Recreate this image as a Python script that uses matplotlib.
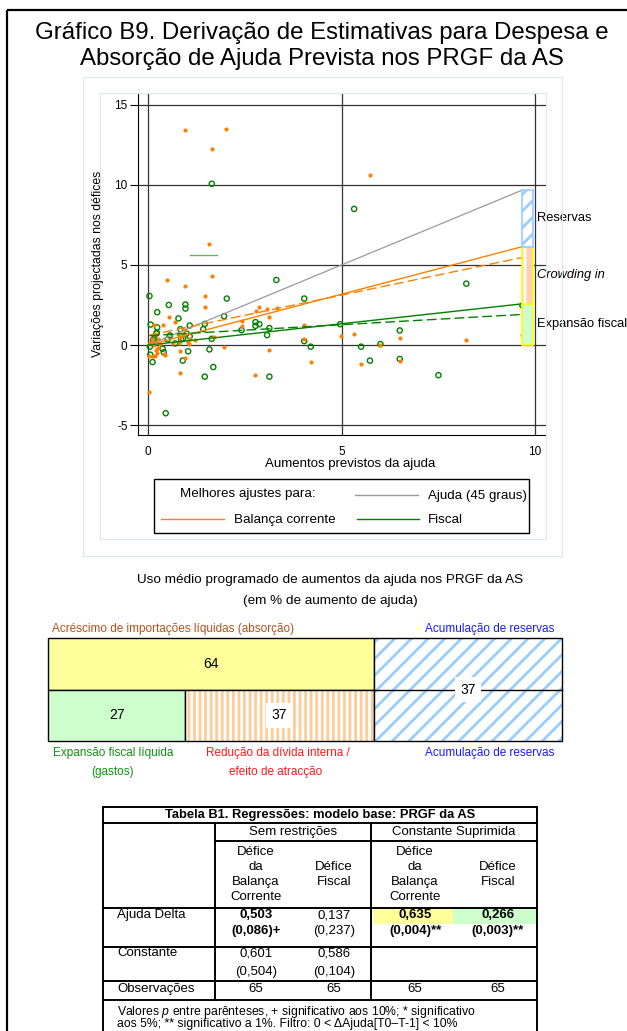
import numpy as np
import matplotlib.pyplot as plt
from matplotlib.patches import Rectangle

plt.rcParams['font.family'] = ['Liberation Sans', 'DejaVu Sans']
plt.rcParams['mathtext.fontset'] = 'custom'
plt.rcParams['mathtext.rm'] = 'Liberation Sans'
plt.rcParams['mathtext.it'] = 'Liberation Sans:italic'
plt.rcParams['hatch.linewidth'] = 2.0
plt.rcParams['axes.unicode_minus'] = False

# dispersão: aumento previsto da ajuda vs. variação projectada do défice
ca_x = [0.95, 2.02, 1.64, 1.57, 1.64, 0.48, 5.72, 0.95, 1.46, 1.46, 0.53, 0.68, 0.37, 0.16,
        2.42, 2.42, 2.78, 2.87, 3.07, 3.13, 3.32, 3.13, 2.76, 1.95, 1.69, 1.09, 1.02, 0.83,
        0.96, 0.82, 0.03, 0.03, 0.17, 0.21, 0.22, 0.40, 0.26, 0.12, 0.16, 0.83, 0.90, 4.03,
        4.03, 4.20, 4.97, 5.32, 5.50, 6.00, 6.50, 6.50, 8.22, 9.67, 0.09, 0.15, 0.13, 0.42,
        0.80, 0.78, 1.06, 0.63, 0.30, 0.94, 0.05, 0.25, 1.20]
ca_y = [13.4, 13.46, 12.2, 6.3, 4.33, 4.06, 10.6, 3.68, 3.08, 2.40, 1.76, 1.46, 1.25, 1.28,
        1.49, 1.18, 2.13, 2.38, 2.24, 1.76, 2.34, -0.31, -1.86, -0.10, 0.52, 0.35, 0.19, -0.39,
        -0.81, -1.72, -2.92, -0.66, -0.66, -0.31, -0.50, -0.56, 0.39, 0.20, 0.72, 0.50, 0.60, 1.28,
        0.37, -1.08, 0.58, 0.66, -1.18, 0.02, 0.43, -0.97, 0.31, 0.64, 0.35, 0.00, -0.68, -0.64,
        0.10, 0.72, 0.04, 0.10, 0.06, 0.97, 0.10, -0.20, 0.30]
fis_x = [1.64, 3.31, 5.32, 0.03, 0.06, 0.23, 0.23, 0.21, 0.53, 0.96, 0.96, 0.78, 0.83, 1.07,
         0.99, 1.42, 1.46, 2.03, 1.96, 2.41, 2.77, 2.77, 2.87, 3.13, 3.07, 4.03, 4.03, 4.20,
         1.64, 1.58, 1.68, 1.46, 3.13, 1.03, 0.89, 0.45, 0.11, 0.37, 0.40, 0.04, 0.05, 0.69,
         0.90, 0.50, 0.56, 4.96, 8.22, 6.50, 5.50, 5.73, 6.00, 6.50, 7.50, 9.67, 0.15, 0.12,
         0.85, 1.07, 0.22]
fis_y = [10.06, 4.06, 8.49, 3.06, 1.28, 2.05, 1.10, 0.72, 2.50, 2.53, 2.28, 1.66, 0.99, 1.22,
         0.72, 0.99, 1.32, 2.90, 1.80, 0.93, 1.20, 1.43, 1.30, 1.06, 0.62, 2.90, 0.25, -0.10,
         0.39, -0.27, -1.37, -1.97, -1.97, -0.39, -0.97, -4.25, -1.06, -0.23, -0.45, -0.10, -0.60, 0.10,
         0.40, 0.35, 0.60, 1.30, 3.83, 0.91, -0.10, -0.97, 0.06, -0.87, -1.88, 2.47, 0.40, 0.32,
         0.35, 0.55, 0.77]

# coeficientes da Tabela B1
slope_ca_free, const_ca_free = 0.503, 0.601
slope_fis_free, const_fis_free = 0.137, 0.586
slope_ca, slope_fis = 0.635, 0.266

# uso médio programado (em % de aumento de ajuda)
absorcao = 64
reservas = 37
fiscal = 27
crowding = 37

# tabela
tab_title = 'Tabela B1. Regressões: modelo base: PRGF da AS'
tab_groups = ['Sem restrições', 'Constante Suprimida']
tab_cols = ['Défice\nda\nBalança\nCorrente', 'Défice\nFiscal',
            'Défice\nda\nBalança\nCorrente', 'Défice\nFiscal']
row_names = ['Ajuda Delta', 'Constante', 'Observações']
coef_row = ['0,503', '0,137', '0,635', '0,266']
pval_row = ['(0,086)+', '(0,237)', '(0,004)**', '(0,003)**']
bold_row = [True, False, True, True]
const_row = ['0,601', '0,586', '', '']
constp_row = ['(0,504)', '(0,104)', '', '']
obs_row = ['65', '65', '65', '65']

W, H = 627, 1031
fig = plt.figure(figsize=(W / 100, H / 100), dpi=100)

def box(l, t, r, b):
    return [l / W, 1 - b / H, (r - l) / W, (b - t) / H]

# ---- gráfico de dispersão ----
ax = fig.add_axes(box(138, 94, 546, 435))
ax.set_xlim(-0.266, 10.28)
ax.set_ylim(-5.61, 15.66)
for s in ['top', 'right']:
    ax.spines[s].set_visible(False)
ax.set_xticks([0, 5, 10])
ax.set_yticks([-5, 0, 5, 10, 15])
ax.tick_params(axis='x', length=0, pad=8, labelsize=8.5)
ax.tick_params(axis='y', length=6, pad=1.5, labelsize=8.5)
ax.grid(True, color='#333333', lw=0.9)
ax.set_axisbelow(True)

ax.scatter(fis_x, fis_y, s=14, facecolors='none', edgecolors='#008000', lw=1.0, zorder=3)
ax.scatter(ca_x, ca_y, s=9, color='#ff8000', lw=0, zorder=3)
ax.plot([1.09, 1.78], [5.6, 5.6], color='#008000', lw=1, alpha=0.6, zorder=3)

xmax = max(ca_x)
xmin = min(min(ca_x), min(fis_x))
ax.plot([0, xmax], [0, xmax], color='#999999', lw=0.9, zorder=4)
ax.plot([0, xmax], [0, slope_ca * xmax], color='#ff8000', lw=1, zorder=4)
ax.plot([xmin, xmax], [const_ca_free + slope_ca_free * xmin, const_ca_free + slope_ca_free * xmax],
        color='#ff8000', lw=1, ls=(0, (7, 3)), zorder=4)
ax.plot([0, xmax], [0, slope_fis * xmax], color='#008000', lw=1, zorder=4)
ax.plot([xmin, xmax], [const_fis_free + slope_fis_free * xmin, const_fis_free + slope_fis_free * xmax],
        color='#008000', lw=1, ls=(0, (7, 3)), zorder=4)

# barra de decomposição no extremo direito
bw = 0.27
y1, y2, y3 = slope_fis * xmax, slope_ca * xmax, xmax
ax.add_patch(Rectangle((xmax, 0), bw, y1, fc='#ccffcc', ec='#ffff00', lw=1.2, zorder=5))
ax.add_patch(Rectangle((xmax, y1), bw, y2 - y1, fc='#fcd0b0', ec='white', hatch='|', lw=0, zorder=5))
ax.add_patch(Rectangle((xmax, y1), bw, y2 - y1, fill=False, ec='#ffff00', lw=1.2, zorder=5))
ax.add_patch(Rectangle((xmax, y2), bw, y3 - y2, fc='white', ec='#99ccff', hatch='//', lw=0, zorder=5))
ax.add_patch(Rectangle((xmax, y2), bw, y3 - y2, fill=False, ec='#99ccff', lw=1.2, zorder=5))
lx = xmax + 0.38
ax.text(lx, (y2 + y3) / 2, 'Reservas', fontsize=9.3, va='center', clip_on=False)
ax.text(lx, (y1 + y2) / 2, 'Crowding in', fontsize=9.3, style='italic', va='center', clip_on=False)
ax.text(lx, y1 / 2, 'Expansão fiscal', fontsize=9.3, va='center', clip_on=False)

# ---- diagrama de blocos ----
bx = fig.add_axes(box(48, 638, 562, 741))
bx.set_xlim(0, absorcao + reservas)
bx.set_ylim(0, 2)
bx.axis('off')
tot = absorcao + reservas
bx.add_patch(Rectangle((0, 1), absorcao, 1, fc='#ffff99', ec='black', lw=1, clip_on=False))
bx.add_patch(Rectangle((0, 0), fiscal, 1, fc='#ccffcc', ec='black', lw=1, clip_on=False))
bx.add_patch(Rectangle((fiscal, 0), crowding, 1, fc='#ffcc99', ec='white', hatch='|||', lw=0, clip_on=False))
bx.add_patch(Rectangle((fiscal, 0), crowding, 1, fill=False, ec='black', lw=1, clip_on=False))
bx.add_patch(Rectangle((absorcao, 0), reservas, 2, fc='white', ec='#99ccff', hatch='//', lw=0, clip_on=False))
bx.add_patch(Rectangle((absorcao, 0), reservas, 2, fill=False, ec='black', lw=1, clip_on=False))
bx.plot([absorcao, tot], [1, 1], color='black', lw=1, clip_on=False)
bx.text(absorcao / 2, 1.5, str(absorcao), ha='center', va='center', fontsize=10)
bx.text(fiscal / 2, 0.5, str(fiscal), ha='center', va='center', fontsize=10)
bx.text(fiscal + crowding / 2, 0.5, str(crowding), ha='center', va='center', fontsize=10,
        bbox=dict(fc='white', ec='none', pad=4))
bx.text(absorcao + reservas / 2, 1, str(reservas), ha='center', va='center', fontsize=10,
        bbox=dict(fc='white', ec='none', pad=4))

# ---- camada de sobreposição (pixels) ----
ov = fig.add_axes([0, 0, 1, 1], zorder=10)
ov.set_xlim(0, W)
ov.set_ylim(H, 0)
ov.axis('off')
ov.patch.set_alpha(0)

ov.add_patch(Rectangle((7, 10), 800, 1200, fill=False, ec='black', lw=1.6))
ov.add_patch(Rectangle((83, 77), 479, 479, fill=False, ec='#dde8ea', lw=0.8))
ov.add_patch(Rectangle((100, 93), 446, 446, fill=False, ec='#dde8ea', lw=0.8))

ov.text(322, 33, 'Gráfico B9. Derivação de Estimativas para Despesa e', ha='center', va='center', fontsize=17.3)
ov.text(322, 59, 'Absorção de Ajuda Prevista nos PRGF da AS', ha='center', va='center', fontsize=17.3)

ov.text(98, 264, 'Variações projectadas nos défices', rotation=90, ha='center', va='center', fontsize=8.8)
ov.text(350, 464, 'Aumentos previstos da ajuda', ha='center', va='center', fontsize=9.5)

# legenda
ov.add_patch(Rectangle((154, 479), 375, 54, fill=False, ec='black', lw=1))
ov.text(180, 494, 'Melhores ajustes para:', va='center', fontsize=9.6)
ov.plot([355, 418], [495, 495], color='#999999', lw=1)
ov.text(428, 496, 'Ajuda (45 graus)', va='center', fontsize=9.6)
ov.plot([161, 224], [519, 519], color='#ff8000', lw=1)
ov.text(234, 520, 'Balança corrente', va='center', fontsize=9.6)
ov.plot([357, 419], [519, 519], color='#008000', lw=1)
ov.text(428, 520, 'Fiscal', va='center', fontsize=9.6)

# títulos e rótulos do diagrama
ov.text(330, 580, 'Uso médio programado de aumentos da ajuda nos PRGF da AS', ha='center', va='center', fontsize=9.7)
ov.text(330, 601, '(em % de aumento de ajuda)', ha='center', va='center', fontsize=9.7)
ov.text(52, 629, 'Acréscimo de importações líquidas (absorção)', va='center', fontsize=8.5, color='#b4501e')
ov.text(554, 629, 'Acumulação de reservas', ha='right', va='center', fontsize=8.5, color='#1a1aff')
ov.text(113, 753, 'Expansão fiscal líquida', ha='center', va='center', fontsize=8.5, color='#109010')
ov.text(113, 772, '(gastos)', ha='center', va='center', fontsize=8.5, color='#109010')
ov.text(278, 753, 'Redução da dívida interna /', ha='center', va='center', fontsize=8.5, color='#ff1a1a')
ov.text(276, 772, 'efeito de atracção', ha='center', va='center', fontsize=8.5, color='#ff1a1a')
ov.text(554, 753, 'Acumulação de reservas', ha='right', va='center', fontsize=8.5, color='#1a1aff')

# tabela
tl, tr, tt = 103, 537, 807
c1, c2 = 215, 371
col_x = [256, 334, 415, 498]
fs = 9.5
ov.add_patch(Rectangle((373, 909), 80, 15, fc='#ffff99', ec='none'))
ov.add_patch(Rectangle((453, 909), 84, 15, fc='#ccffcc', ec='none'))
lw_t = 1.4
ov.plot([tl, tl], [tt, 1040], color='black', lw=lw_t)
ov.plot([tr, tr], [tt, 1040], color='black', lw=lw_t)
for yy in [tt, 823, 908, 947, 981, 1000]:
    ov.plot([tl, tr], [yy, yy], color='black', lw=lw_t)
ov.plot([c1, tr], [841, 841], color='black', lw=lw_t)
for xx in [c1, c2]:
    ov.plot([xx, xx], [823, 1000], color='black', lw=lw_t)

ov.text((tl + tr) / 2, 815, tab_title, ha='center', va='center', fontsize=9.3, weight='bold')
ov.text((c1 + c2) / 2, 832, tab_groups[0], ha='center', va='center', fontsize=fs)
ov.text((c2 + tr) / 2, 832, tab_groups[1], ha='center', va='center', fontsize=fs)
for cx, lab in zip(col_x, tab_cols):
    parts = lab.split('\n')
    y0 = 852 if len(parts) == 4 else 867
    for i, p in enumerate(parts):
        ov.text(cx, y0 + i * 15, p, ha='center', va='center', fontsize=fs)

ov.text(117, 915, row_names[0], va='center', fontsize=fs)
ov.text(117, 953, row_names[1], va='center', fontsize=fs)
ov.text(117, 989, row_names[2], va='center', fontsize=fs)
for i, cx in enumerate(col_x):
    w = 'bold' if bold_row[i] else 'normal'
    ov.text(cx, 915, coef_row[i], ha='center', va='center', fontsize=fs, weight=w)
    ov.text(cx, 931, pval_row[i], ha='center', va='center', fontsize=fs, weight=w)
    ov.text(cx, 953, const_row[i], ha='center', va='center', fontsize=fs)
    ov.text(cx, 972, constp_row[i], ha='center', va='center', fontsize=fs)
    ov.text(cx, 989, obs_row[i], ha='center', va='center', fontsize=fs)

ov.text(117, 1012, r'Valores $\it{p}$ entre parênteses, + significativo aos 10%; * significativo',
        va='center', fontsize=8.8)
ov.text(117, 1024, 'aos 5%; ** significativo a 1%. Filtro: 0 < ΔAjuda[T0–T-1] < 10%',
        va='center', fontsize=8.8)

fig.savefig('out.png', dpi=100)
